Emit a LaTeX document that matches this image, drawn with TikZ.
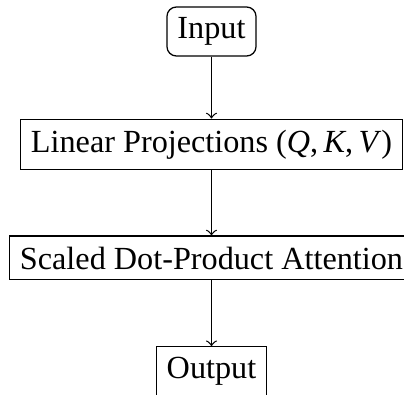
\documentclass[tikz,border=0pt]{standalone}
\usepackage{fontspec}
\setmainfont{Liberation Serif}
\begin{document}
\begin{tikzpicture}[x=0.3165pt,y=-0.3165pt,
  box/.style={draw, font=\fontsize{10.2}{12}\selectfont, inner sep=.3333em},
  roundbox/.style={box, rounded corners=3pt},
  conn/.style={->}]
\useasboundingbox (0,0) rectangle (404,395);
\clip (0,0) rectangle (404,395);
\node[roundbox] (in) at (211.5,31.5) {Input};
\node[box] (lin) at (211.5,144.3) {Linear Projections (\textit{Q},\,\textit{K},\,\textit{V\/})};
\node[box] (att) at (211.5,258) {Scaled Dot-Product Attention};
\node[box] (out) at (211.5,371.5) {Output};
\draw[conn] (in) -- (lin);
\draw[conn] (lin) -- (att);
\draw[conn] (att) -- (out);
\end{tikzpicture}
\end{document}
